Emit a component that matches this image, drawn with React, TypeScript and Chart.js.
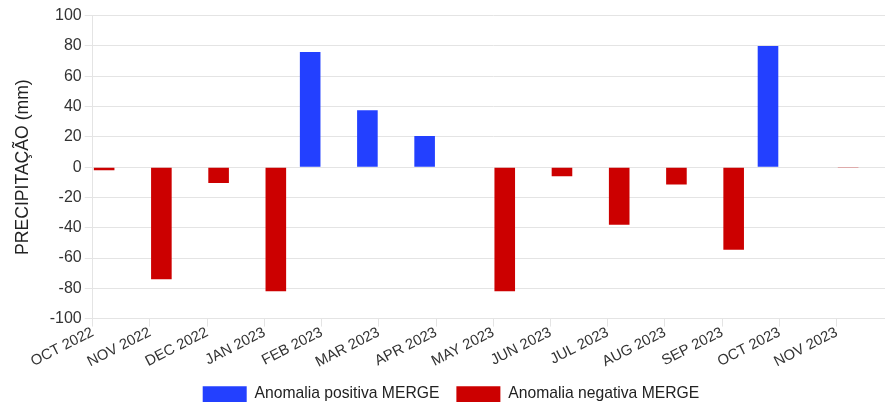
import React, { useEffect, useRef } from 'react';
import { Chart, registerables } from 'chart.js';

Chart.register(...registerables);

const months = [
  'OCT 2022', 'NOV 2022', 'DEC 2022', 'JAN 2023', 'FEB 2023', 'MAR 2023', 'APR 2023',
  'MAY 2023', 'JUN 2023', 'JUL 2023', 'AUG 2023', 'SEP 2023', 'OCT 2023', 'NOV 2023',
];
const positiveAnomaly = [null, null, null, null, 76, 37.5, 20.5, null, null, null, null, null, 80, null];
const negativeAnomaly = [-2, -74, -10.5, -82, null, null, null, -82, -6, -38, -11.5, -54.5, null, -0.3];
const yMin = -100;
const yMax = 100;
const yStep = 20;

const FAMILY = '"Liberation Sans", Arial, Helvetica, sans-serif';
const BLUE = '#2340ff';
const RED = '#cc0000';
const GRID = '#e4e4e4';
const TEXT = '#333333';

export default function App() {
  const ref = useRef<HTMLCanvasElement>(null);

  useEffect(() => {
    const chart = new Chart(ref.current as HTMLCanvasElement, {
      type: 'bar',
      data: {
        labels: [...months, ''],
        datasets: [
          {
            label: 'Anomalia positiva MERGE',
            data: [...positiveAnomaly, null],
            backgroundColor: BLUE,
          },
          {
            label: 'Anomalia negativa MERGE',
            data: [...negativeAnomaly, null],
            backgroundColor: RED,
          },
        ],
      },
      options: {
        animation: false,
        responsive: false,
        devicePixelRatio: window.devicePixelRatio || 1,
        layout: { padding: { left: 8, right: 6.1, top: 15.7, bottom: 0 } },
        plugins: {
          legend: {
            position: 'bottom',
            labels: {
              boxWidth: 44,
              padding: 17,
              color: '#222',
              font: { size: 15.7, family: FAMILY },
            },
          },
          tooltip: { enabled: false },
        },
        scales: {
          x: {
            offset: false,
            grid: { offset: false, drawOnChartArea: false, color: GRID, tickLength: 8 },
            border: { color: GRID },
            ticks: {
              autoSkip: false,
              minRotation: 27,
              maxRotation: 27,
              padding: -3,
              color: TEXT,
              font: { size: 14.8, family: FAMILY },
            },
            afterFit: (s: any) => {
              s.height = 50.7;
            },
          },
          y: {
            min: yMin,
            max: yMax,
            ticks: {
              stepSize: yStep,
              padding: 3,
              color: TEXT,
              font: { size: 16, family: FAMILY },
            },
            grid: { color: GRID, tickLength: 8 },
            border: { color: GRID },
            title: {
              display: true,
              text: 'PRECIPITAÇÃO (mm)',
              color: '#222',
              font: { size: 17.6, family: FAMILY },
              padding: { top: 5, bottom: 4 },
            },
            afterFit: (s: any) => {
              s.width = 92.7 - 8;
            },
          },
        },
      },
    });
    return () => chart.destroy();
  }, []);

  return (
    <div style={{ position: 'absolute', left: 0, top: 0, width: 885, height: 402, overflow: 'hidden', background: '#fff' }}>
      <canvas ref={ref} width={900} height={412} style={{ width: 900, height: 412, display: 'block' }} />
    </div>
  );
}
